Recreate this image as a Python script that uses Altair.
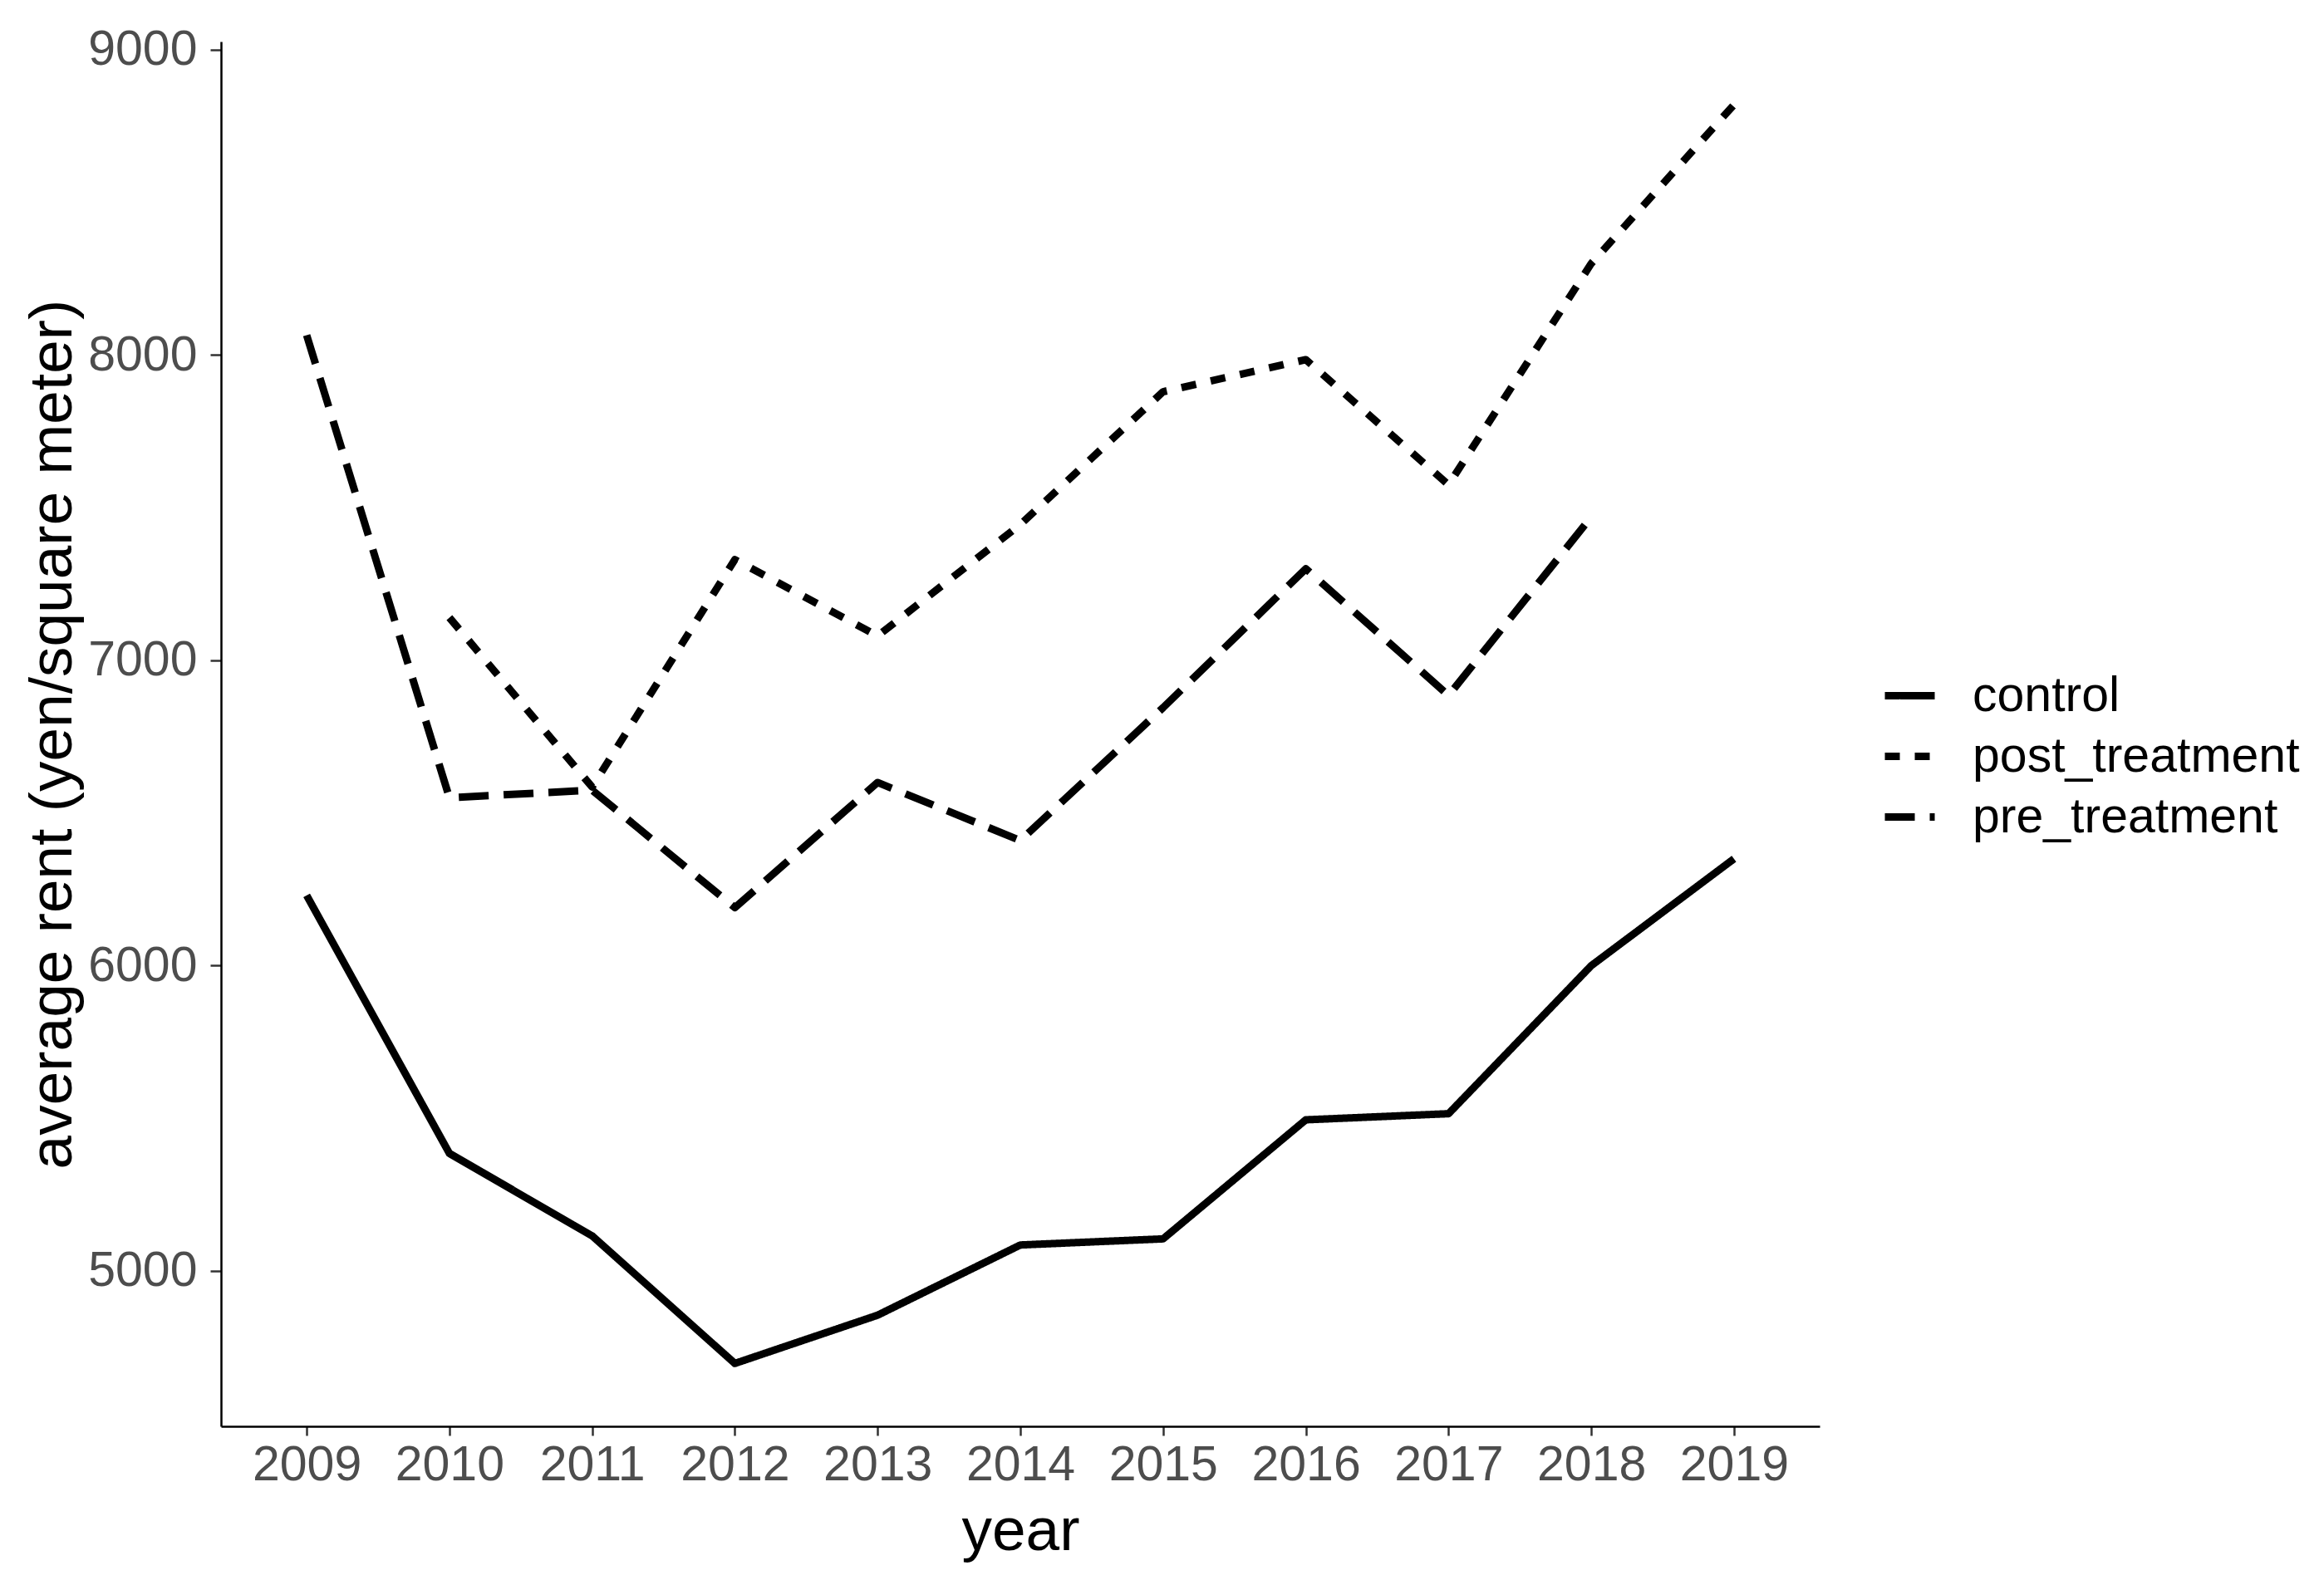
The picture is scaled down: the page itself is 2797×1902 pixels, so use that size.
import altair as alt
import pandas as pd

years = [2009, 2010, 2011, 2012, 2013, 2014, 2015, 2016, 2017, 2018, 2019]
control = [6230, 5385, 5115, 4697, 4855, 5085, 5105, 5495, 5515, 6000, 6350]
post_years = [2010, 2011, 2012, 2013, 2014, 2015, 2016, 2017, 2018, 2019]
post_treatment = [7140, 6585, 7330, 7080, 7445, 7880, 7985, 7575, 8300, 8820]
pre_years = [2009, 2010, 2011, 2012, 2013, 2014, 2015, 2016, 2017, 2018]
pre_treatment = [8065, 6550, 6575, 6190, 6600, 6410, 6845, 7300, 6885, 7470]
groups = ["control", "post_treatment", "pre_treatment"]
y_ticks = [5000, 6000, 7000, 8000, 9000]

rows = []
for y, v in zip(years, control):
    rows.append({"year": y, "rent": v, "group": "control"})
for y, v in zip(post_years, post_treatment):
    rows.append({"year": y, "rent": v, "group": "post_treatment"})
for y, v in zip(pre_years, pre_treatment):
    rows.append({"year": y, "rent": v, "group": "pre_treatment"})
df = pd.DataFrame(rows)

LW = 9
FONT = "Liberation Sans"

chart = alt.Chart(df).mark_line(color="black", strokeWidth=LW, strokeCap="butt", strokeJoin="round").encode(
    x=alt.X("year:O", sort=years,
            scale=alt.Scale(type="point", padding=0.6),
            axis=alt.Axis(title="year", labelAngle=0, grid=False,
                          tickSize=11, tickWidth=2.5, tickColor="#333333",
                          domainColor="black", domainWidth=2.5,
                          labelFontSize=59, labelColor="#4D4D4D", labelPadding=6,
                          labelFont=FONT, titleFont=FONT,
                          titleFontSize=73, titleFontWeight="normal", titleColor="black",
                          titleBaseline="alphabetic", titleY=148)),
    y=alt.Y("rent:Q",
            scale=alt.Scale(domain=[4491, 9027], nice=False, zero=False),
            axis=alt.Axis(title="average rent (yen/square meter)", values=y_ticks, grid=False,
                          format="d",
                          tickSize=13, tickWidth=2.5, tickColor="#333333",
                          domainColor="black", domainWidth=2.5,
                          labelFontSize=59, labelColor="#4D4D4D", labelPadding=16,
                          labelFont=FONT, titleFont=FONT,
                          titleFontSize=73, titleFontWeight="normal", titleColor="black",
                          titleBaseline="alphabetic", titleX=-181)),
    strokeDash=alt.StrokeDash("group:N",
                              scale=alt.Scale(domain=groups, range=[[1, 0], [18, 18], [36, 18]]),
                              legend=alt.Legend(title=None, orient="none", legendX=1998, legendY=753,
                                                symbolType="stroke", symbolSize=3600,
                                                symbolStrokeWidth=LW, symbolStrokeColor="black",
                                                labelFontSize=59, labelFont=FONT, labelColor="black",
                                                labelLimit=1000,
                                                labelOffset=41, rowPadding=8, padding=0)),
    order=alt.Order("year:O"),
).properties(
    width=1924, height=1667,
    padding={"left": 258, "top": 42, "right": 590, "bottom": 170},
    autosize=alt.AutoSizeParams(type="none"),
).configure(font=FONT, background="white").configure_view(stroke="transparent", strokeWidth=0)

chart.save("out.html", embed_options={"renderer": "svg", "actions": False})
